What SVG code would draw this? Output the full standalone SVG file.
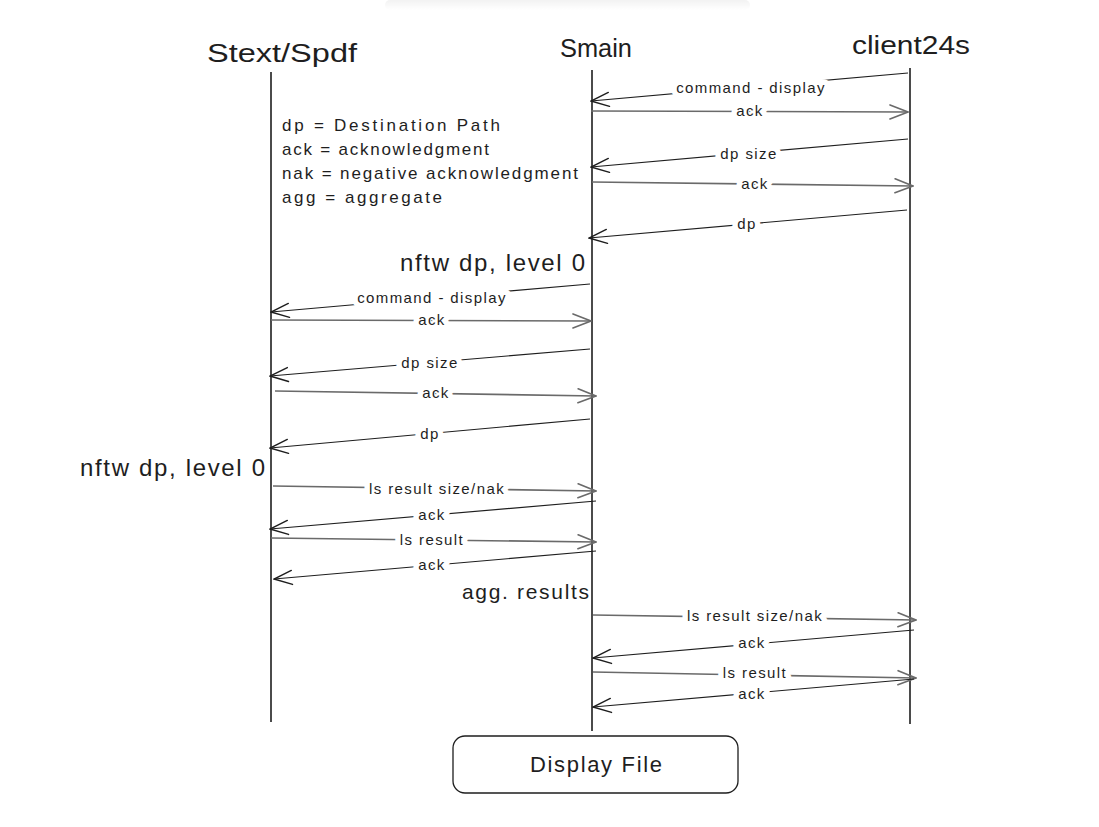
<svg xmlns="http://www.w3.org/2000/svg" width="1099" height="827" viewBox="0 0 1099 827">
  <defs>
    <marker id="headDark" viewBox="0 0 20 20" refX="19" refY="10" markerWidth="20" markerHeight="20" markerUnits="userSpaceOnUse" orient="auto">
      <path d="M1,3 L19,10 L1,17" fill="none" stroke="#1e1e1e" stroke-width="1.4" stroke-linecap="round"/>
    </marker>
    <marker id="headGrey" viewBox="0 0 20 20" refX="19" refY="10" markerWidth="20" markerHeight="20" markerUnits="userSpaceOnUse" orient="auto">
      <path d="M1,3 L19,10 L1,17" fill="none" stroke="#6a6a6a" stroke-width="1.6" stroke-linecap="round"/>
    </marker>
    <linearGradient id="shade" x1="0" y1="0" x2="0" y2="1">
      <stop offset="0" stop-color="#000" stop-opacity="0.05"/>
      <stop offset="1" stop-color="#000" stop-opacity="0"/>
    </linearGradient>
    <style>
      text { font-family: "Liberation Sans", "DejaVu Sans", sans-serif; fill: #1e1e1e; }
      .title { font-size: 26px; }
      .note { font-size: 17px; }
      .big { font-size: 24px; }
      .lbl { font-size: 15px; letter-spacing: 1.4px; text-anchor: middle; stroke: #fff; stroke-width: 11px; paint-order: stroke; stroke-linejoin: round; }
      .life { stroke: #1e1e1e; stroke-width: 1.6; fill: none; }
      .back { stroke: #1e1e1e; stroke-width: 1.2; fill: none; marker-end: url(#headDark); }
      .fwd { stroke: #6a6a6a; stroke-width: 1.6; fill: none; marker-end: url(#headGrey); }
    </style>
  </defs>

  <rect width="1099" height="827" fill="#fff"/>
  <!-- soft shade along the top edge -->
  <rect x="385" y="0" width="365" height="10" fill="url(#shade)" rx="5"/>

  <!-- participants -->
  <g id="stext">
    <text class="title" x="207" y="62" textLength="150" lengthAdjust="spacingAndGlyphs">Stext/Spdf</text>
    <line class="life" x1="271" y1="72" x2="271" y2="722"/>
  </g>
  <g id="smain">
    <text class="title" x="560" y="57" textLength="72" lengthAdjust="spacingAndGlyphs">Smain</text>
    <line class="life" x1="592" y1="70" x2="592" y2="731"/>
  </g>
  <g id="client24s">
    <text class="title" x="852" y="54" textLength="118" lengthAdjust="spacingAndGlyphs">client24s</text>
    <line class="life" x1="910" y1="68" x2="910" y2="724"/>
  </g>

  <!-- legend -->
  <g id="legend">
    <text class="note" x="282" y="131" textLength="218" lengthAdjust="spacing">dp = Destination Path</text>
    <text class="note" x="282" y="155" textLength="207" lengthAdjust="spacing">ack = acknowledgment</text>
    <text class="note" x="282" y="179" textLength="296" lengthAdjust="spacing">nak = negative acknowledgment</text>
    <text class="note" x="282" y="203" textLength="160" lengthAdjust="spacing">agg = aggregate</text>
  </g>

  <!-- local actions -->
  <g id="notes">
    <text class="big" x="400" y="271" textLength="185" lengthAdjust="spacing">nftw dp, level 0</text>
    <text class="big" x="80" y="476" textLength="185" lengthAdjust="spacing">nftw dp, level 0</text>
    <text x="462" y="599" font-size="21" textLength="127" lengthAdjust="spacing">agg. results</text>
  </g>

  <!-- messages -->
  <g id="connectors">
    <path class="back" d="M908,73 L591,101"/>
    <path class="fwd" d="M591,111 L908,112"/>
    <path class="back" d="M908,139 L591,167"/>
    <path class="fwd" d="M592,182 L913,186"/>
    <path class="back" d="M907,210 L589,238"/>

    <path class="back" d="M590,284 L271,312"/>
    <path class="fwd" d="M271,320 L591,321"/>
    <path class="back" d="M590,349 L270,376"/>
    <path class="fwd" d="M275,391 L596,396"/>
    <path class="back" d="M590,419 L270,448"/>

    <path class="fwd" d="M273,486 L596,491"/>
    <path class="back" d="M596,501 L270,529"/>
    <path class="fwd" d="M271,538 L596,542"/>
    <path class="back" d="M596,551 L274,579"/>

    <path class="fwd" d="M593,615 L916,620"/>
    <path class="back" d="M914,630 L593,658"/>
    <path class="fwd" d="M593,672 L916,678"/>
    <path class="back" d="M914,679 L593,707"/>
  </g>

  <!-- message labels -->
  <g id="labels">
    <text class="lbl" x="751" y="93">command - display</text>
    <text class="lbl" x="750" y="116">ack</text>
    <text class="lbl" x="749" y="159">dp size</text>
    <text class="lbl" x="755" y="189">ack</text>
    <text class="lbl" x="747" y="229">dp</text>

    <text class="lbl" x="432" y="303">command - display</text>
    <text class="lbl" x="432" y="325">ack</text>
    <text class="lbl" x="430" y="368">dp size</text>
    <text class="lbl" x="436" y="398">ack</text>
    <text class="lbl" x="430" y="439">dp</text>

    <text class="lbl" x="437" y="494">ls result size/nak</text>
    <text class="lbl" x="432" y="520">ack</text>
    <text class="lbl" x="432" y="545">ls result</text>
    <text class="lbl" x="432" y="570">ack</text>

    <text class="lbl" x="755" y="621">ls result size/nak</text>
    <text class="lbl" x="752" y="648">ack</text>
    <text class="lbl" x="755" y="678">ls result</text>
    <text class="lbl" x="752" y="699">ack</text>
  </g>

  <!-- terminal box -->
  <g id="display-file">
    <rect x="453" y="736" width="285" height="57" rx="12" fill="#fff" stroke="#1e1e1e" stroke-width="1.3"/>
    <text x="530" y="772" font-size="22" textLength="132" lengthAdjust="spacing">Display File</text>
  </g>
</svg>
